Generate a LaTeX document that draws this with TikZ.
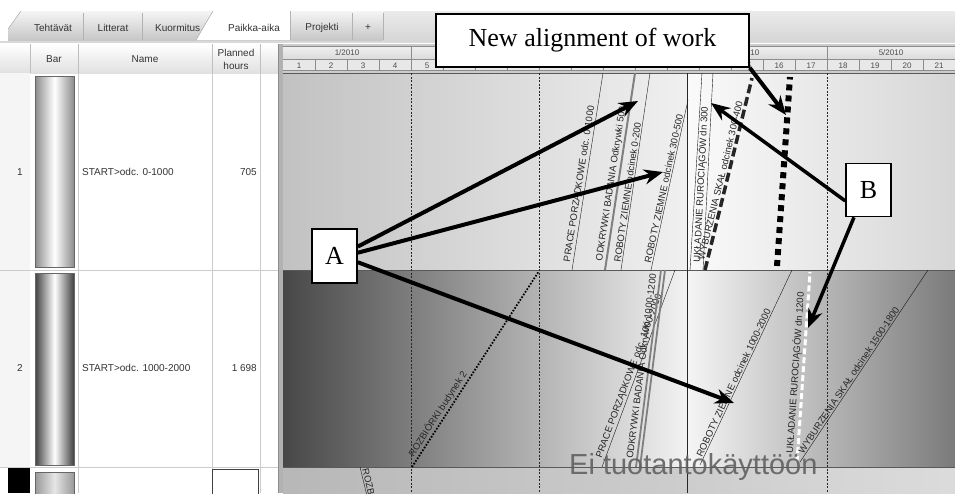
\documentclass[tikz,border=0pt]{standalone}
\usepackage{fontspec}
\setmainfont{Liberation Sans}
\newfontfamily\calloutfont{Liberation Serif}
\usetikzlibrary{arrows.meta}

\begin{document}
\begin{tikzpicture}[x=1pt,y=-1pt,
  ui/.style={font=\fontsize{10}{11}\selectfont,text=black!80,inner sep=0pt},
  small/.style={font=\fontsize{8}{9}\selectfont,text=black!70,inner sep=0pt},
  task/.style={font=\fontsize{9.5}{10}\selectfont,text=black!85,sloped,inner sep=1.2pt,anchor=south west,pos=0.03},
  callout/.style={draw,line width=1.6pt,fill=white,inner sep=0pt,
    font=\calloutfont\fontsize{26}{28}\selectfont,minimum width=45pt,minimum height=54pt},
  pointer/.style={line width=4pt,-{Stealth[length=19pt,width=15pt]}},
  gridline/.style={black!85,dash pattern=on 2pt off 1.5pt,line width=0.6pt}]
  \useasboundingbox (0,0) rectangle (955,493);
  \fill[white] (0,0) rectangle (955,493);

  % tabs
  \shade[top color=black!4,bottom color=black!22] (8,11) rectangle (383,40);
  \shade[top color=black!8,bottom color=black!16] (383,11) rectangle (955,40);
  \fill[white] (0,11) -- (21,11) -- (8,29) -- (0,29) -- cycle;
  \draw[black!40] (8,29) -- (21,11);
  \foreach \x in {83,142,352,383} \draw[black!30] (\x,13) -- (\x,40);
  \node[ui] (tabTeh) at (53,28) {Tehtävät};
  \node[ui] (tabLit) at (113,28) {Litterat};
  \node[ui,anchor=west] (tabKuo) at (155,28) {Kuormitus};
  \fill[white] (196,40) -- (213,11) -- (290,11) -- (290,40) -- cycle;
  \draw[black!40] (196,40) -- (213,11);
  \draw[black!30] (290,11) -- (290,40);
  \node[ui] (tabPai) at (254,28) {Paikka-aika};
  \node[ui] (tabPro) at (322,28) {Projekti};
  \node[ui] (tabAdd) at (368,28) {+};
  \draw[black!15,line width=2pt] (0,42) -- (955,42);

  % table header
  \shade[top color=white,bottom color=black!12] (0,44) rectangle (278,73);
  \foreach \x in {30,78,212,260} \draw[black!25] (\x,44) -- (\x,73);
  \node[ui] (hBar) at (54,59) {Bar};
  \node[ui] (hName) at (145,59) {Name};
  \node[ui,align=center,font=\fontsize{10}{13}\selectfont] (hHours) at (236,59) {Planned\\hours};

  % table rows
  \fill[black!4] (0,73) rectangle (30,467);
  \draw[black!20] (0,270) -- (278,270) (0,467) -- (278,467);
  \foreach \x in {78,212,260} \draw[black!20] (\x,73) -- (\x,493);
  \draw[black!45] (278,44) -- (278,493);
  \fill[black!30] (279,44) rectangle (283,493);
  \shade[left color=black!45,right color=black!45,middle color=white,draw=black!60] (35,76) rectangle (74,267);
  \shade[left color=black!75,right color=black!75,middle color=white,draw=black!60] (35,273) rectangle (74,465);
  \shade[left color=black!40,right color=black!40,middle color=black!10,draw=black!60] (35,472) rectangle (74,497);
  \fill[black] (8,468) rectangle (30,493);
  \draw[black!75,fill=white] (212,469) rectangle (258,497);
  \node[ui] (n1) at (20,172) {1};
  \node[ui,anchor=west] (name1) at (82,172) {START>odc. 0-1000};
  \node[ui,anchor=east] (hrs1) at (257,172) {705};
  \node[ui] (n2) at (20,368) {2};
  \node[ui,anchor=west] (name2) at (82,368) {START>odc. 1000-2000};
  \node[ui,anchor=east] (hrs2) at (257,368) {1 698};

  % chart header
  \fill[black!20] (283,44) rectangle (955,73);
  \shade[top color=black!6,bottom color=black!14] (283,46) rectangle (955,59);
  \fill[black!9] (283,60) rectangle (955,70);
  \draw[black!45] (283,46) -- (955,46) (283,59.5) -- (955,59.5) (283,70) -- (955,70);
  \foreach \x in {411,539,667,827} \draw[black!45] (\x,46) -- (\x,60);
  \node[small] (m1) at (347,53) {1/2010};
  \node[small] (m2) at (475,53) {2/2010};
  \node[small] (m3) at (603,53) {3/2010};
  \node[small] (m4) at (747,53) {4/2010};
  \node[small] (m5) at (891,53) {5/2010};
  \foreach \k in {1,...,21} {
    \node[small] (w\k) at ({299+32*(\k-1)},65.5) {\k};
    \draw[black!45] ({283+32*\k},60) -- ({283+32*\k},70);
  }

  % chart rows
  \shade[left color=black!24,right color=black!6] (283,73) rectangle (687,270);
  \shade[left color=black!2,right color=black!16] (687,73) rectangle (955,270);
  \shade[left color=black!72,right color=black!5] (283,270) rectangle (687,467);
  \shade[left color=black!4,right color=black!52] (687,270) rectangle (955,467);
  \shade[left color=black!28,right color=black!14] (283,467) rectangle (955,493);
  \draw[black!65] (283,73) -- (955,73) (283,270) -- (955,270) (283,467) -- (955,467);
  \foreach \x in {411,539,827} \draw[gridline] (\x,73) -- (\x,493);
  \draw[black!85,line width=0.6pt] (687,73) -- (687,493);

  % row 1
  \draw[black!90] (572,270) -- node[task] {PRACE PORZĄDKOWE odc. 0-1000} (603,73);
  \draw[black!50,line width=2pt] (605,270) -- node[task] {ODKRYWKI BADANIA Odkrywki 500} (635,73);
  \draw[black!90] (621,270) -- node[task] {ROBOTY ZIEMNE odcinek 0-200} (650,73);
  \draw[black!90] (651,270) -- node[task] {ROBOTY ZIEMNE odcinek 300-500} (688,100);
  \draw[black!90] (690,270) -- (702,73);
  \draw[black!90] (703,270) -- node[task] {UKŁADANIE RUROCIĄGÓW dn 300} (713,73);
  \draw[black!85,line width=3.5pt,dash pattern=on 9pt off 4pt] (705,270) -- node[task,text=black!85] {WYBURZENIA SKAŁ odcinek 300-400} (752,78);
  \draw[line width=6pt,dash pattern=on 6pt off 5pt] (777,266) -- (790,77);

  % row 2
  \draw[line width=1.8pt,dash pattern=on 1.6pt off 1.6pt] (412,467) -- node[task] {ROZBIÓRKI budynek 2} (539,271);
  \draw[black!90] (602,467) -- node[task] {PRACE PORZĄDKOWE odc. 1000-2000} (675,270);
  \draw[black!50,line width=1.8pt] (636,467) -- node[task] {ODKRYWKI BADANIA Odkrywki 1000-1200} (661,270);
  \draw[black!50,line width=1.8pt] (640,467) -- (665,270);
  \draw[black!90] (700,465) -- node[task] {ROBOTY ZIEMNE odcinek 1000-2000} (792,270);
  \draw[white,line width=3pt,dash pattern=on 6pt off 3pt] (797,462) -- node[task] {UKŁADANIE RUROCIĄGÓW dn 1200} (810,272);
  \draw[black!90] (800,462) -- node[task] {WYBURZENIA SKAŁ odcinek 1500-1800} (928,270);

  % row 3
  \begin{scope}
    \clip (283,467) rectangle (955,493);
    \draw[black!90] (360,467) -- node[task,pos=0.05] {ROZBIÓRKI} (368,500);
  \end{scope}

  \node[anchor=base west,inner sep=0pt,text=black!62,opacity=0.9,font=\fontsize{29}{30}\selectfont] (wm) at (569,474) {Ei tuotantokäyttöön};

  % callouts
  \node[callout,minimum width=313pt,minimum height=53pt] (newalign) at (592.5,40.5) {New alignment of work};
  \node[callout] (A) at (334.5,256) {A};
  \node[callout,minimum height=53pt] (B) at (868.5,190) {B};
  \coordinate (tNew) at (786,115);
  \coordinate (tA1) at (638,101);
  \coordinate (tA2) at (663,172);
  \coordinate (tA3) at (734,403);
  \coordinate (tB1) at (711,103);
  \coordinate (tB2) at (808,328);
  \draw[pointer] (newalign.south east) -- (tNew);
  \draw[pointer] (A.22) -- (tA1);
  \draw[pointer] (A.8) -- (tA2);
  \draw[pointer] (A.-15) -- (tA3);
  \draw[pointer,line width=3.5pt] (B.-155) -- (tB1);
  \draw[pointer,line width=3.5pt] (B.-118) -- (tB2);
\end{tikzpicture}
\end{document}
